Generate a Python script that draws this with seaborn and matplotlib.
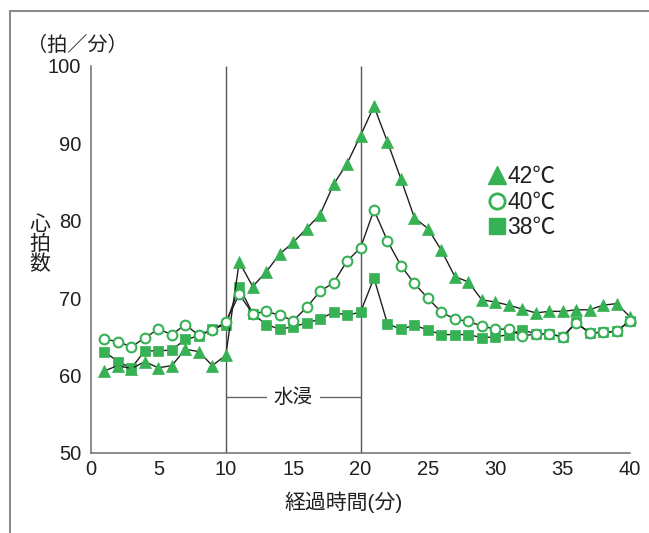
import matplotlib
matplotlib.use("Agg")
import matplotlib.pyplot as plt
from matplotlib.lines import Line2D
import seaborn as sns
import pandas as pd

# ---- data ----
minutes = list(range(1, 41))
hr_42 = [60.6, 61.3, 60.9, 61.8, 61.0, 61.3, 63.4, 63.1, 61.3, 62.6,
         74.7, 71.5, 73.4, 75.7, 77.2, 79.0, 80.8, 84.7, 87.4, 91.0,
         94.8, 90.2, 85.4, 80.4, 79.0, 76.2, 72.8, 72.1, 69.8, 69.5,
         69.1, 68.6, 68.1, 68.3, 68.3, 68.5, 68.5, 69.1, 69.3, 67.6]
hr_40 = [64.7, 64.4, 63.7, 64.9, 66.0, 65.3, 66.6, 65.2, 65.9, 66.9,
         70.5, 68.0, 68.3, 67.8, 67.1, 68.8, 70.9, 72.0, 74.8, 76.5,
         81.4, 77.4, 74.2, 71.9, 70.0, 68.2, 67.3, 67.0, 66.4, 66.0,
         66.0, 65.1, 65.4, 65.4, 65.0, 66.8, 65.5, 65.6, 65.7, 67.1]
hr_38 = [63.1, 61.8, 61.0, 63.2, 63.2, 63.3, 64.7, 65.1, 66.0, 66.6,
         71.5, 68.0, 66.6, 66.0, 66.3, 66.8, 67.3, 68.2, 67.8, 68.2,
         72.6, 66.7, 66.0, 66.5, 65.9, 65.3, 65.3, 65.3, 64.9, 65.0,
         65.3, 65.9, 65.4, 65.4, 65.0, 66.9, 65.5, 65.6, 65.7, 67.1]
labels = ["42℃", "40℃", "38℃"]
x_ticks = [0, 5, 10, 15, 20, 25, 30, 35, 40]
y_ticks = [50, 60, 70, 80, 90, 100]
immersion = [10, 20]

df = pd.DataFrame({
    "min": minutes * 3,
    "hr": hr_42 + hr_40 + hr_38,
    "temp": [labels[0]] * 40 + [labels[1]] * 40 + [labels[2]] * 40,
})

sns.set_style("white")
plt.rcParams["font.family"] = ["Liberation Sans", "Noto Sans CJK JP", "DejaVu Sans"]

GREEN = "#36b154"
INK = "#231f20"

fig = plt.figure(figsize=(6.49, 5.33), dpi=100)
ax = fig.add_axes([91 / 649, 80 / 533, (630 - 91) / 649, (453 - 66) / 533])

styles = {
    labels[2]: dict(marker="s", markersize=7.5, markerfacecolor=GREEN, markeredgecolor=GREEN, markeredgewidth=0.5),
    labels[0]: dict(marker="^", markersize=8.5, markerfacecolor=GREEN, markeredgecolor=GREEN, markeredgewidth=0.5),
    labels[1]: dict(marker="o", markersize=7.0, markerfacecolor="white", markeredgecolor=GREEN, markeredgewidth=1.5),
}
for lab in [labels[2], labels[0], labels[1]]:
    sub = df[df["temp"] == lab]
    sns.lineplot(data=sub, x="min", y="hr", ax=ax, color=INK, linewidth=1.0,
                 clip_on=False, legend=False, **styles[lab])

ax.set_xlim(0, 40)
ax.set_ylim(50, 100)
ax.set_xticks(x_ticks)
ax.set_yticks(y_ticks)
ax.set_ylabel("")
for s in ["top", "right"]:
    ax.spines[s].set_visible(False)
for s in ["left", "bottom"]:
    ax.spines[s].set_color("#6d6d6d")
    ax.spines[s].set_linewidth(1.1)
ax.tick_params(axis="both", direction="in", length=9, width=1.0, color="#6d6d6d",
               labelsize=14.5, labelcolor=INK)
ax.tick_params(axis="y", pad=7)
ax.tick_params(axis="x", pad=5)

# immersion markers
ax.vlines(immersion, 50, 100, color="#555555", linewidth=1.0, zorder=1)
ax.hlines(57.2, immersion[0], immersion[1], color="#666666", linewidth=1.0, zorder=1)
ax.text(15, 57.2, "水浸", ha="center", va="center", fontsize=14, color=INK,
        bbox=dict(facecolor="white", edgecolor="none", pad=5), zorder=2)

# legend
handles = [
    Line2D([], [], linestyle="none", marker="^", markersize=13, markerfacecolor=GREEN, markeredgecolor=GREEN),
    Line2D([], [], linestyle="none", marker="o", markersize=11, markerfacecolor="white", markeredgecolor=GREEN, markeredgewidth=2.0),
    Line2D([], [], linestyle="none", marker="s", markersize=12, markerfacecolor=GREEN, markeredgecolor=GREEN),
]
ax.legend(handles, labels, loc="upper left", bbox_to_anchor=((488 - 91) / 539, (453 - 165) / 387),
          frameon=False, handlelength=0.75, handletextpad=0.1, labelspacing=0.12,
          borderaxespad=0, borderpad=0, prop=dict(size=16.5), labelcolor=INK)

# axis titles
ax.set_xlabel("経過時間(分)", fontsize=15, color=INK)
ax.xaxis.set_label_coords((344 - 91) / 539, -(502 - 453) / 387)
ax.xaxis.label.set_va("center")
fig.text(40 / 649, 1 - 245 / 533, "心\n拍\n数", ha="center", va="center",
         fontsize=15, linespacing=1.02, color=INK)
fig.text(77 / 649, 1 - 45 / 533, "（拍／分）", ha="center", va="center",
         fontsize=14.5, color=INK)

# outer frame
fig.add_artist(Line2D([10 / 649, 1.0], [1 - 11 / 533, 1 - 11 / 533], transform=fig.transFigure,
                      color="#8c8c8c", linewidth=1.5))
fig.add_artist(Line2D([10 / 649, 10 / 649], [0, 1 - 11 / 533], transform=fig.transFigure,
                      color="#8c8c8c", linewidth=1.5))

fig.savefig("out.png", dpi=100)
